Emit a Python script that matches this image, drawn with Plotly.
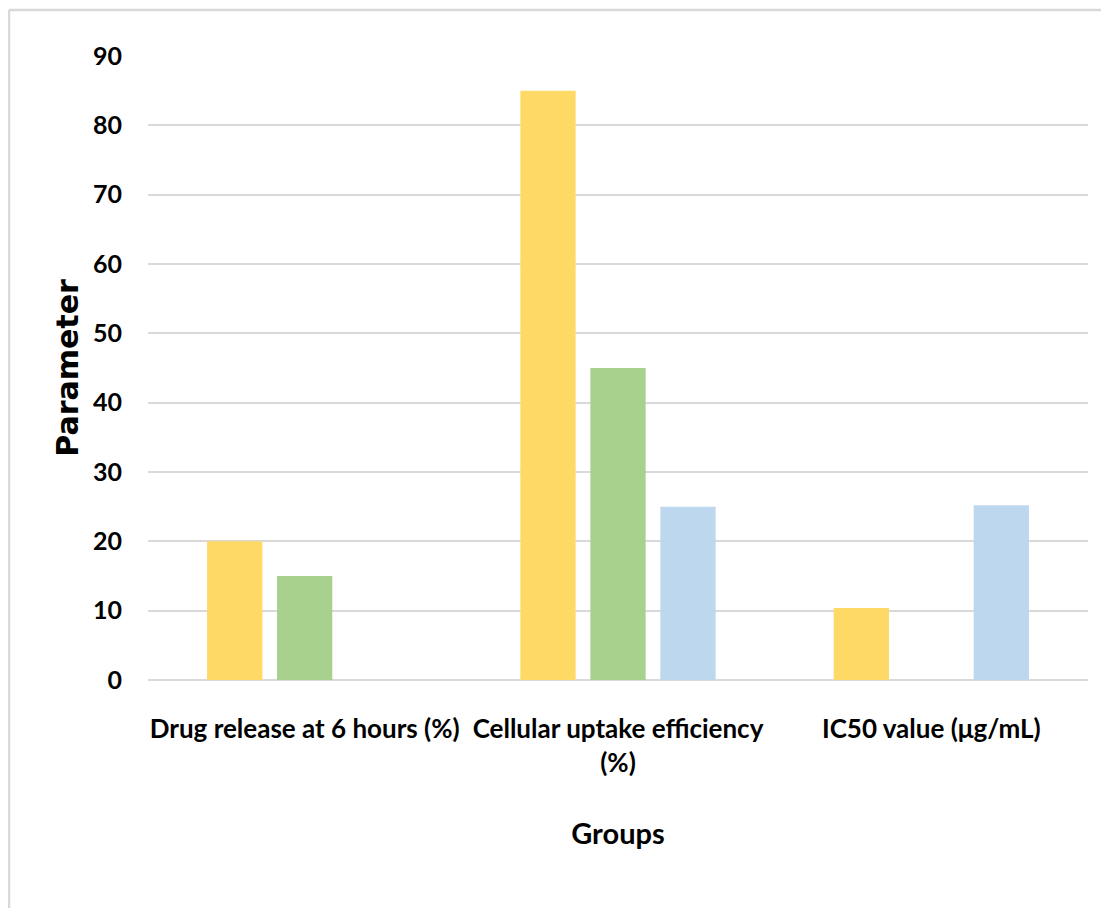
import plotly.graph_objects as go

categories = ["Drug release at 6 hours (%)", "Cellular uptake efficiency<br>(%)", "IC50 value (μg/mL)"]
series_names = ["Series 1", "Series 2", "Series 3"]
series1 = [20, 85, 10.4]
series2 = [15, 45, None]
series3 = [None, 25, 25.2]
colors = ["#FFD966", "#A9D18E", "#BDD7EE"]
y_ticks = [0, 10, 20, 30, 40, 50, 60, 70, 80, 90]

W, H = 1109, 908
L, R, T, B = 140, 29, 48, 236

MAIN = "Lato, sans-serif"
WIDE = "DejaVu Sans, Lato, sans-serif"

fig = go.Figure()
for name, vals, c in zip(series_names, [series1, series2, series3], colors):
    fig.add_trace(go.Bar(x=categories, y=vals, name=name, marker=dict(color=c, line=dict(width=0))))

fig.update_layout(
    width=W, height=H,
    margin=dict(l=L, r=R, t=T, b=B, autoexpand=False),
    paper_bgcolor="white", plot_bgcolor="white",
    barmode="group", bargap=0.33, bargroupgap=0.21,
    showlegend=False,
    font=dict(family=MAIN, size=26, color="#000000", weight=700),
    xaxis=dict(
        showgrid=False, showline=False, zeroline=False, ticks="",
        tickangle=0,
        tickfont=dict(family=MAIN, size=26, color="#000000", weight=700),
        ticklabelstandoff=31,
        title=dict(text="Groups", font=dict(family=MAIN, size=29, color="#000000", weight=700), standoff=46),
    ),
    yaxis=dict(
        range=[0, 90], tickvals=y_ticks,
        showgrid=True, gridcolor="#D9D9D9", gridwidth=1.5,
        zeroline=True, zerolinecolor="#D9D9D9", zerolinewidth=1.5,
        showline=False, ticks="",
        tickfont=dict(family=MAIN, size=25, color="#000000", weight=700),
        ticklabelstandoff=25,
        title=dict(text="Parameter", font=dict(family=WIDE, size=30, color="#000000", weight=700), standoff=5),
    ),
)

pw = W - L - R
ph = H - T - B
x0 = (1 - L) / pw
y1 = 1 + (T - 2) / ph
fig.add_shape(type="line", xref="paper", yref="paper", x0=x0, x1=(W - L) / pw, y0=y1, y1=y1,
              line=dict(color="#D9D9D9", width=2.5))
fig.add_shape(type="line", xref="paper", yref="paper", x0=x0, x1=x0, y0=-(B) / ph, y1=y1,
              line=dict(color="#D9D9D9", width=2.5))

fig.write_html("out.html")
